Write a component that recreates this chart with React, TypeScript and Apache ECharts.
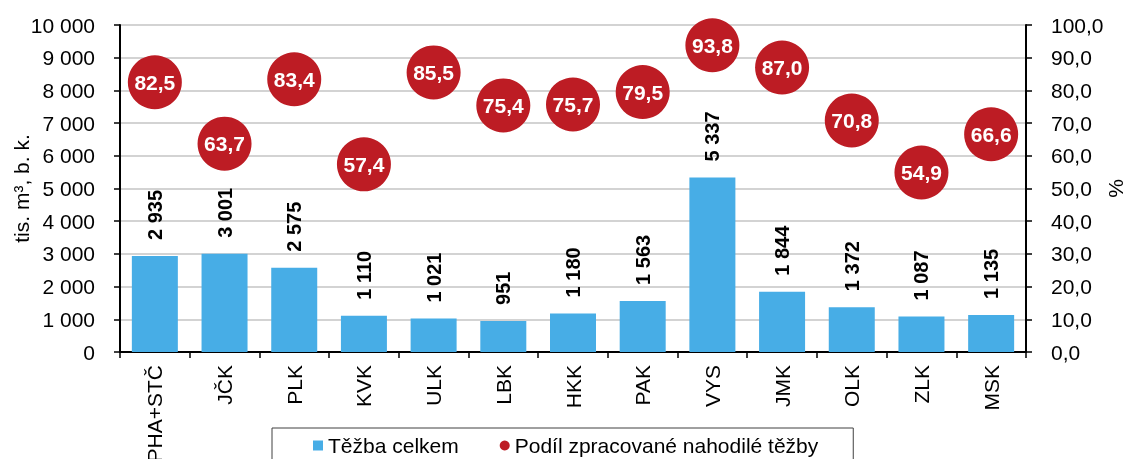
import React, { useEffect, useRef } from "react";
import * as echarts from "echarts";

const categories = ["PHA+STČ", "JČK", "PLK", "KVK", "ULK", "LBK", "HKK", "PAK", "VYS", "JMK", "OLK", "ZLK", "MSK"];
const tezbaCelkem = [2935, 3001, 2575, 1110, 1021, 951, 1180, 1563, 5337, 1844, 1372, 1087, 1135];
const podilNahodile = [82.5, 63.7, 83.4, 57.4, 85.5, 75.4, 75.7, 79.5, 93.8, 87.0, 70.8, 54.9, 66.6];

const fmtThousands = (v: number) => String(Math.round(v)).replace(/\B(?=(\d{3})+(?!\d))/g, " ");
const fmtPct = (v: number) => v.toFixed(1).replace(".", ",");

const FONT = "Liberation Sans, Arial, sans-serif";

export default function App() {
  const ref = useRef<HTMLDivElement>(null);
  useEffect(() => {
    if (!ref.current) return;
    const chart = echarts.init(ref.current, undefined, { renderer: "svg" });
    chart.setOption({
      animation: false,
      textStyle: { fontFamily: FONT },
      grid: { left: 120, right: 100, top: 25, bottom: 107, containLabel: false, outerBoundsMode: "none" },
      legend: {
        left: 272,
        top: 428,
        itemGap: 41,
        itemWidth: 10,
        itemHeight: 10,
        padding: [7, 35, 20, 41],
        borderColor: "#404040",
        borderWidth: 1,
        textStyle: { fontSize: 21, color: "#000", fontFamily: FONT },
        data: [
          { name: "Těžba celkem", icon: "rect" },
          { name: "Podíl zpracované nahodilé těžby", icon: "circle" },
        ],
      },
      xAxis: {
        type: "category",
        data: categories,
        axisLine: { lineStyle: { color: "#000", width: 2 } },
        axisTick: { show: true, length: 6, lineStyle: { color: "#000", width: 1.5 } },
        axisLabel: { rotate: 90, fontSize: 21, color: "#000", margin: 13, fontFamily: FONT },
      },
      yAxis: [
        {
          type: "value",
          min: 0,
          max: 10000,
          interval: 1000,
          name: "tis. m³, b. k.",
          nameLocation: "middle",
          nameGap: 88,
          nameRotate: 90,
          nameMoveOverlap: false,
          nameTextStyle: { fontSize: 21, color: "#000", fontFamily: FONT },
          axisLine: { show: true, lineStyle: { color: "#000", width: 2 } },
          axisTick: { show: true, length: 6, lineStyle: { color: "#000", width: 1.5 } },
          axisLabel: { fontSize: 21, color: "#000", margin: 25, formatter: fmtThousands, fontFamily: FONT },
          splitLine: { show: true, lineStyle: { color: "#c4c4c4", width: 1.5 } },
        },
        {
          type: "value",
          min: 0,
          max: 100,
          interval: 10,
          name: "%",
          nameLocation: "middle",
          nameGap: 79,
          nameRotate: 90,
          nameMoveOverlap: false,
          nameTextStyle: { fontSize: 21, color: "#000", fontFamily: FONT },
          axisLine: { show: true, lineStyle: { color: "#000", width: 2 } },
          axisTick: { show: true, length: 6, lineStyle: { color: "#000", width: 1.5 } },
          axisLabel: { fontSize: 21, color: "#000", margin: 25, formatter: fmtPct, fontFamily: FONT },
          splitLine: { show: false },
        },
      ],
      series: [
        {
          name: "Těžba celkem",
          type: "bar",
          data: tezbaCelkem,
          barWidth: "66%",
          itemStyle: { color: "#47ade6" },
          label: {
            show: true,
            position: "top",
            rotate: 90,
            align: "left",
            verticalAlign: "middle",
            distance: 16,
            fontSize: 20,
            fontWeight: "bold",
            color: "#000",
            fontFamily: FONT,
            formatter: (p: any) => fmtThousands(p.value),
          },
        },
        {
          name: "Podíl zpracované nahodilé těžby",
          type: "scatter",
          yAxisIndex: 1,
          data: podilNahodile,
          symbol: "circle",
          symbolSize: 54,
          itemStyle: { color: "#bd1c24", opacity: 1 },
          label: {
            show: true,
            position: "inside",
            fontSize: 21,
            fontWeight: "bold",
            color: "#fff",
            fontFamily: FONT,
            formatter: (p: any) => fmtPct(p.value),
          },
          z: 5,
        },
      ],
    });
    return () => chart.dispose();
  }, []);
  return <div ref={ref} style={{ position: "fixed", left: 0, top: 0, width: 1126, height: 459 }} />;
}
